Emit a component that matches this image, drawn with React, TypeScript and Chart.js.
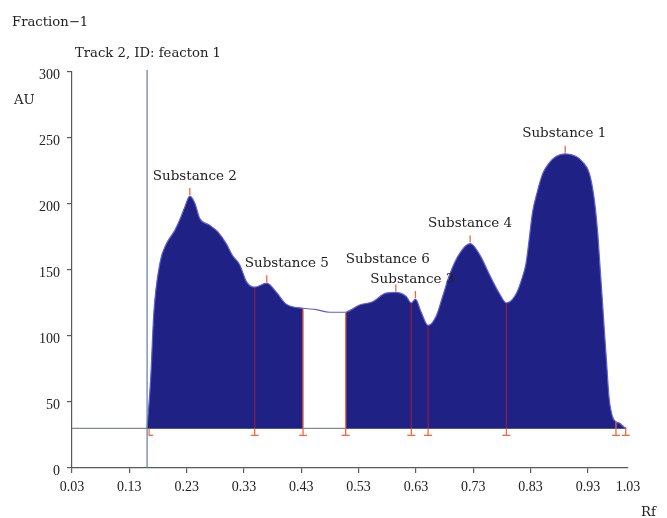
import React, { useEffect, useRef } from "react";
import { Chart, registerables } from "chart.js";

Chart.register(...registerables);

// ---- data ----
const rfValues = [
  0.161, 0.1672, 0.1727, 0.1833, 0.1949, 0.2094, 0.218, 0.227, 0.2355, 0.244,
  0.253, 0.27, 0.284, 0.299, 0.31, 0.3225, 0.3346, 0.3487, 0.3698, 0.3868, 0.4039, 0.4331,
  0.4562, 0.4793, 0.5075, 0.5316, 0.5547, 0.5778, 0.5949, 0.613, 0.622, 0.6291, 0.6392, 0.6512,
  0.6653, 0.6753, 0.6884, 0.7055, 0.7246, 0.7407, 0.7578, 0.7759, 0.7879, 0.805, 0.8161, 0.8221,
  0.8281, 0.8332, 0.8422, 0.8512, 0.8623, 0.8744, 0.8905, 0.9096, 0.9206, 0.9327, 0.9407, 0.9468,
  0.9508, 0.9548, 0.9588, 0.9628, 0.9668, 0.9729, 0.9789, 0.985, 0.993, 0.997,
];
const auValues = [
  30, 67, 117, 155, 170, 180, 188, 198, 206, 201,
  189, 184, 179, 170, 161, 154, 141, 137, 140, 133, 124, 121,
  120, 118, 118, 123.5, 126, 132.5, 133, 130, 125, 128, 118, 108,
  115, 128, 146, 162, 170, 162, 147, 132, 125, 132, 145, 155,
  175, 193, 210, 223, 231, 236, 238, 236, 232, 223, 205, 180,
  155, 130, 104, 79, 54, 39, 35, 34, 31, 30,
];
const baselineAU = 30;
const startRf = 0.161;
const gapStartRf = 0.4331;
const gapEndRf = 0.5075;
const dividerRf = [0.3487, 0.4331, 0.5075, 0.622, 0.6512, 0.7879, 0.979, 0.996];
const peakNames = ["Substance 2", "Substance 5", "Substance 6", "Substance 3", "Substance 4", "Substance 1"];
const peakRf = [0.2355, 0.3698, 0.5949, 0.6291, 0.7246, 0.8905];
const peakAU = [206, 140, 133, 128, 170, 238];
const xTickValues = [0.03, 0.13, 0.23, 0.33, 0.43, 0.53, 0.63, 0.73, 0.83, 0.93, 1.0];
const xTickLabels = ["0.03", "0.13", "0.23", "0.33", "0.43", "0.53", "0.63", "0.73", "0.83", "0.93", "1.03"];
const yMin = 0;
const yMax = 300;
const yStep = 50;
const titleText = "Fraction\u22121";
const trackText = "Track 2, ID: feacton 1";
const yAxisTitle = "AU";
const xAxisTitle = "Rf";

// ---- styles ----
const FONT = "'DejaVu Serif', serif";
const TICKFONT = "'Liberation Serif', serif";
const TEXT = "#222222";
const FILL = "#1f2184";
const EDGE = "#5c5fd0";
const ORANGE = "#f2683c";
const MAROON = "#86204a";
const AXIS = "#5a5a5a";
// label pixel offsets (dx, dy) for readability
const labelOffsets = [[5, 0], [20, 0], [-8, -13], [-3, 0], [0, 0], [-1, 0]];

function interpAU(rf: number): number {
  for (let i = 0; i < rfValues.length - 1; i++) {
    if (rf >= rfValues[i] && rf <= rfValues[i + 1]) {
      const t = (rf - rfValues[i]) / (rfValues[i + 1] - rfValues[i]);
      return auValues[i] + t * (auValues[i + 1] - auValues[i]);
    }
  }
  return baselineAU;
}

export default function App() {
  const ref = useRef<HTMLCanvasElement | null>(null);

  useEffect(() => {
    if (!ref.current) return;
    const pts = rfValues.map((x, i) => ({ x, y: auValues[i] }));
    const segA = pts.filter((p) => p.x <= gapStartRf);
    const segC = pts.filter((p) => p.x >= gapEndRf);

    const overlay = {
      id: "overlay",
      beforeDatasetsDraw(chart: any) {
        const { ctx, scales } = chart;
        const xs = scales.x, ys = scales.y;
        ctx.save();
        ctx.strokeStyle = "#7d8a90";
        ctx.lineWidth = 1.3;
        ctx.beginPath();
        ctx.moveTo(xs.left, ys.getPixelForValue(baselineAU));
        ctx.lineTo(xs.getPixelForValue(rfValues[rfValues.length - 1]), ys.getPixelForValue(baselineAU));
        ctx.stroke();
        ctx.restore();
      },
      afterDatasetsDraw(chart: any) {
        const { ctx, scales } = chart;
        const xs = scales.x, ys = scales.y;
        const by = ys.getPixelForValue(baselineAU);
        ctx.save();
        const sx = xs.getPixelForValue(startRf);
        ctx.strokeStyle = "#5a7f9c";
        ctx.lineWidth = 1.2;
        ctx.beginPath();
        ctx.moveTo(sx, chart.chartArea.top - 2);
        ctx.lineTo(sx, chart.chartArea.bottom);
        ctx.stroke();
        ctx.strokeStyle = ORANGE;
        ctx.lineWidth = 1.2;
        ctx.beginPath();
        ctx.moveTo(sx + 2, by);
        ctx.lineTo(sx + 2, by + 7);
        ctx.lineTo(sx + 6, by + 7);
        ctx.stroke();
        dividerRf.forEach((rf) => {
          const x = xs.getPixelForValue(rf);
          const top = ys.getPixelForValue(interpAU(rf));
          const edge = rf === gapStartRf || rf === gapEndRf || rf > 0.97;
          ctx.strokeStyle = edge ? ORANGE : MAROON;
          ctx.lineWidth = 1.3;
          ctx.beginPath();
          ctx.moveTo(x, top);
          ctx.lineTo(x, by);
          ctx.stroke();
          ctx.strokeStyle = ORANGE;
          ctx.beginPath();
          ctx.moveTo(x, by);
          ctx.lineTo(x, by + 7);
          ctx.moveTo(x - 4, by + 7);
          ctx.lineTo(x + 4, by + 7);
          ctx.stroke();
        });
        ctx.font = `13.5px ${FONT}`;
        ctx.fillStyle = TEXT;
        ctx.textAlign = "center";
        ctx.textBaseline = "middle";
        peakRf.forEach((rf, i) => {
          const x = xs.getPixelForValue(rf);
          const y = ys.getPixelForValue(peakAU[i]);
          ctx.strokeStyle = ORANGE;
          ctx.lineWidth = 1.3;
          ctx.beginPath();
          ctx.moveTo(x, y - 1);
          ctx.lineTo(x, y - 8);
          ctx.stroke();
          const [dx, dy] = labelOffsets[i];
          ctx.fillText(peakNames[i], x + dx, y - 20 + dy);
        });
        ctx.restore();
      },
      afterDraw(chart: any) {
        const { ctx } = chart;
        ctx.save();
        ctx.fillStyle = TEXT;
        ctx.font = `13.2px ${FONT}`;
        ctx.textAlign = "left";
        ctx.textBaseline = "alphabetic";
        ctx.fillText(titleText, 12, 26);
        ctx.fillText(trackText, 75, 57);
        ctx.fillText(yAxisTitle, 14, 104);
        ctx.fillText(xAxisTitle, 641, 516);
        ctx.restore();
      },
    };

    const chart = new Chart(ref.current, {
      type: "line",
      data: {
        datasets: [
          {
            data: pts,
            borderColor: EDGE,
            borderWidth: 1.2,
            pointRadius: 0,
            fill: false,
            cubicInterpolationMode: "monotone",
            order: 0,
          },
          {
            data: segA,
            borderWidth: 0,
            borderColor: "rgba(0,0,0,0)",
            backgroundColor: FILL,
            pointRadius: 0,
            fill: { value: baselineAU },
            cubicInterpolationMode: "monotone",
            order: 1,
          },
          {
            data: segC,
            borderWidth: 0,
            borderColor: "rgba(0,0,0,0)",
            backgroundColor: FILL,
            pointRadius: 0,
            fill: { value: baselineAU },
            cubicInterpolationMode: "monotone",
            order: 1,
          },
        ],
      },
      options: {
        animation: false,
        responsive: false,
        devicePixelRatio: 1,
        layout: { padding: { top: 72, right: 39, left: 0, bottom: 0 } },
        plugins: { legend: { display: false }, tooltip: { enabled: false }, title: { display: false } },
        scales: {
          x: {
            type: "linear",
            min: 0.03,
            max: 1.0,
            afterBuildTicks: (s: any) => {
              s.ticks = xTickValues.map((v) => ({ value: v }));
            },
            afterFit: (s: any) => {
              s.height = 50;
            },
            ticks: {
              autoSkip: false,
              maxRotation: 0,
              padding: 6,
              color: TEXT,
              font: { family: TICKFONT, size: 14 },
              callback: (_v: any, i: number) => xTickLabels[i],
            },
            grid: {
              drawOnChartArea: false,
              drawTicks: true,
              tickLength: 5,
              color: (c: any) => (c.index === xTickValues.length - 1 ? "rgba(0,0,0,0)" : AXIS),
              lineWidth: 1.2,
            },
            border: { display: true, color: AXIS, width: 1.2 },
          },
          y: {
            min: yMin,
            max: yMax,
            afterFit: (s: any) => {
              s.width = 72;
            },
            ticks: {
              stepSize: yStep,
              padding: 7,
              labelOffset: 3,
              color: TEXT,
              font: { family: TICKFONT, size: 14 },
            },
            grid: { drawOnChartArea: false, drawTicks: true, tickLength: 5, color: AXIS, lineWidth: 1.2 },
            border: { display: true, color: AXIS, width: 1.2 },
          },
        },
      },
      plugins: [overlay],
    } as any);
    return () => chart.destroy();
  }, []);

  return (
    <div style={{ position: "absolute", left: 0, top: 0, width: 667, height: 518, background: "#fff" }}>
      <canvas ref={ref} width={667} height={518} />
    </div>
  );
}
